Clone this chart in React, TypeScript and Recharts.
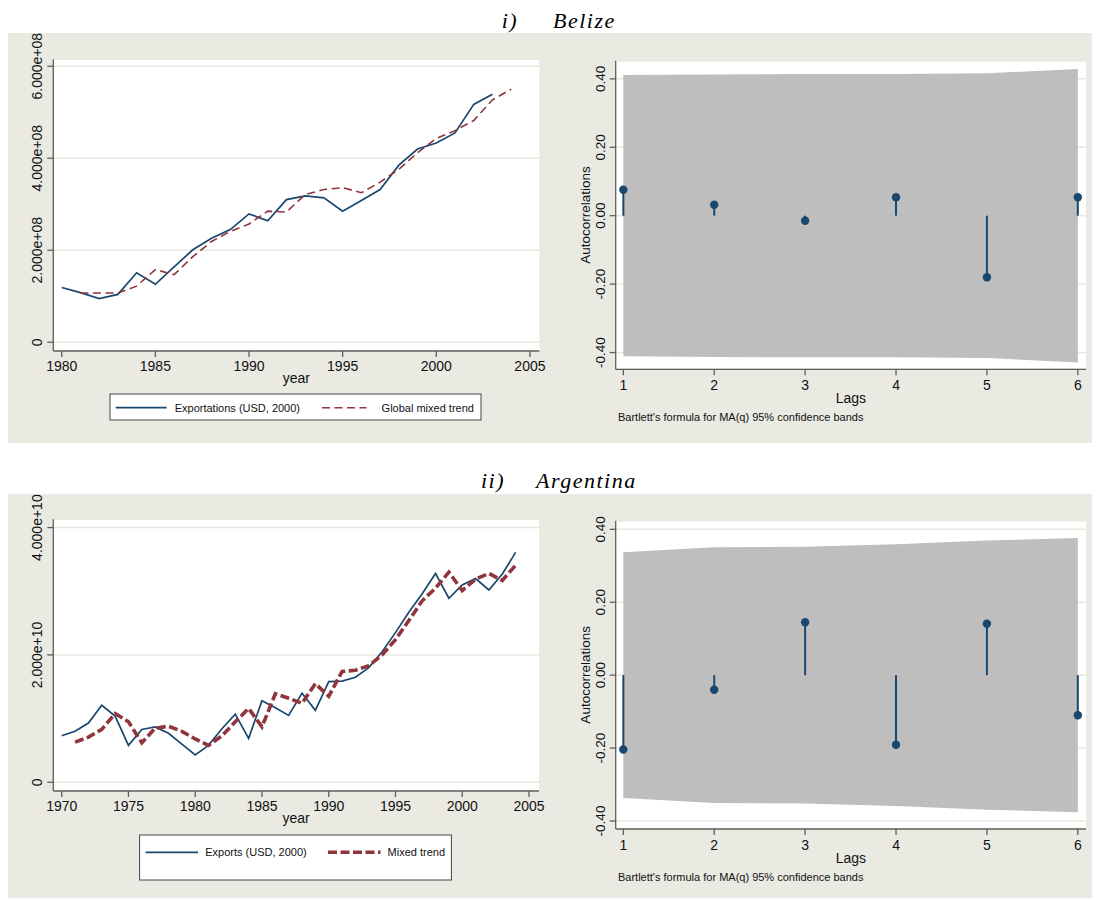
import React from 'react';
import {
  LineChart, Line, XAxis, YAxis, CartesianGrid, ComposedChart, Area, Scatter, ReferenceLine,
} from 'recharts';

// ---------------- data ----------------
const belizeYears = [1980, 1981, 1982, 1983, 1984, 1985, 1986, 1987, 1988, 1989, 1990, 1991, 1992,
  1993, 1994, 1995, 1996, 1997, 1998, 1999, 2000, 2001, 2002, 2003, 2004];
const belizeExports = [1.19e8, 1.08e8, 0.95e8, 1.04e8, 1.51e8, 1.26e8, 1.64e8, 2.01e8, 2.26e8, 2.45e8,
  2.79e8, 2.64e8, 3.10e8, 3.18e8, 3.14e8, 2.85e8, 3.08e8, 3.32e8, 3.85e8, 4.20e8, 4.33e8, 4.55e8,
  5.17e8, 5.39e8, null];
const belizeTrend = [null, 1.07e8, 1.07e8, 1.07e8, 1.22e8, 1.58e8, 1.47e8, 1.86e8, 2.19e8, 2.41e8,
  2.57e8, 2.85e8, 2.83e8, 3.21e8, 3.32e8, 3.36e8, 3.25e8, 3.48e8, 3.76e8, 4.12e8, 4.43e8, 4.60e8,
  4.82e8, 5.27e8, 5.50e8];
const belizeXTicks = [1980, 1985, 1990, 1995, 2000, 2005];
const belizeYTicks = [0, 2e8, 4e8, 6e8];

const argYears = [1970, 1971, 1972, 1973, 1974, 1975, 1976, 1977, 1978, 1979, 1980, 1981, 1982, 1983,
  1984, 1985, 1986, 1987, 1988, 1989, 1990, 1991, 1992, 1993, 1994, 1995, 1996, 1997, 1998, 1999,
  2000, 2001, 2002, 2003, 2004];
const argExports = [0.73e10, 0.80e10, 0.93e10, 1.21e10, 1.04e10, 0.58e10, 0.83e10, 0.87e10, 0.77e10,
  0.60e10, 0.43e10, 0.58e10, 0.84e10, 1.07e10, 0.69e10, 1.28e10, 1.17e10, 1.05e10, 1.40e10, 1.13e10,
  1.58e10, 1.59e10, 1.65e10, 1.80e10, 2.05e10, 2.35e10, 2.67e10, 2.96e10, 3.28e10, 2.89e10, 3.10e10,
  3.20e10, 3.02e10, 3.27e10, 3.61e10];
const argTrend = [null, 0.63e10, 0.71e10, 0.83e10, 1.08e10, 0.95e10, 0.62e10, 0.85e10, 0.88e10,
  0.80e10, 0.68e10, 0.58e10, 0.73e10, 0.95e10, 1.16e10, 0.87e10, 1.39e10, 1.32e10, 1.24e10, 1.55e10,
  1.35e10, 1.74e10, 1.76e10, 1.83e10, 2.00e10, 2.24e10, 2.54e10, 2.85e10, 3.05e10, 3.30e10, 3.01e10,
  3.19e10, 3.28e10, 3.17e10, 3.41e10];
const argXTicks = [1970, 1975, 1980, 1985, 1990, 1995, 2000, 2005];
const argYTicks = [0, 2e10, 4e10];

const lags = [1, 2, 3, 4, 5, 6];
const belizeAcf = [0.076, 0.032, -0.015, 0.054, -0.180, 0.054];
const belizeBand = [0.411, 0.413, 0.414, 0.414, 0.416, 0.429];
const argAcf = [-0.204, -0.040, 0.145, -0.191, 0.141, -0.110];
const argBand = [0.337, 0.351, 0.352, 0.359, 0.369, 0.376];
const acfTicks = [-0.4, -0.2, 0, 0.2, 0.4];

// ---------------- style ----------------
const FONT = '"Liberation Sans", Arial, Helvetica, sans-serif';
const SERIF = '"Liberation Serif", "Times New Roman", serif';
const NAVY = '#1A476F';
const MAROON = '#90353B';
const BEIGE = '#EAEAE2';
const GRID = '#E8E8DE';
const AXIS = '#5E5E5E';
const BAND = '#BEBEBE';

function sciFmt(v: number) {
  if (v === 0) return '0';
  return v.toExponential(3).replace(/e\+(\d)$/, 'e+0$1');
}
function acfFmt(v: number) {
  return v.toFixed(2);
}

const YRotTick = (props: any) => {
  const { x, y, payload, fmt, fontSize } = props;
  const bx = x - 3;
  return (
    <text x={bx} y={y} transform={`rotate(-90 ${bx} ${y})`} textAnchor="middle"
      fontSize={fontSize || 14} fill="#111" fontFamily={FONT}>
      {fmt(payload.value)}
    </text>
  );
};

type Box = { L: number; T: number; W: number; H: number };
type Plot = { x0: number; y0: number; x1: number; y1: number };

function marginsFor(box: Box, plot: Plot, yW: number, xH: number) {
  return {
    left: plot.x0 - box.L - yW,
    top: plot.y0 - box.T,
    right: box.L + box.W - plot.x1,
    bottom: box.T + box.H - plot.y1 - xH,
  };
}

function SeriesChart(props: {
  box: Box; plot: Plot; years: number[]; exp: (number | null)[]; trend: (number | null)[];
  xDomain: [number, number]; xTicks: number[]; yDomain: [number, number]; yTicks: number[];
  trendWidth: number; trendDash: string;
}) {
  const { box, plot, years, exp, trend } = props;
  const yW = 40, xH = 40;
  const rows = years.map((yr, i) => ({ year: yr, exp: exp[i], trend: trend[i] }));
  const margin = marginsFor(box, plot, yW, xH);
  const cx = (plot.x0 + plot.x1) / 2 - box.L;
  const labelY = plot.y1 - box.T + 32;
  return (
    <div style={{ position: 'absolute', left: box.L, top: box.T }}>
      <LineChart width={box.W} height={box.H} data={rows} margin={margin}>
        <CartesianGrid vertical={false} stroke={GRID} strokeWidth={1.5} fill="#FFFFFF" fillOpacity={1} />
        <XAxis dataKey="year" type="number" domain={props.xDomain} ticks={props.xTicks} allowDataOverflow
          interval={0} height={xH} tickSize={6} tickMargin={4} stroke={AXIS} strokeWidth={1.3}
          tick={{ fontSize: 14, fill: '#111', fontFamily: FONT }}
          label={() => (
            <text x={cx} y={labelY} textAnchor="middle" fontSize={14} fill="#111" fontFamily={FONT}>year</text>
          )} />
        <YAxis type="number" domain={props.yDomain} ticks={props.yTicks} allowDataOverflow interval={0}
          width={yW} tickSize={6} tickMargin={2} stroke={AXIS} strokeWidth={1.3}
          tick={<YRotTick fmt={sciFmt} fontSize={14} />} />
        <Line dataKey="exp" type="linear" stroke={NAVY} strokeWidth={1.7} dot={false} activeDot={false}
          isAnimationActive={false} />
        <Line dataKey="trend" type="linear" stroke={MAROON} strokeWidth={props.trendWidth}
          strokeDasharray={props.trendDash} dot={false} activeDot={false} isAnimationActive={false} />
      </LineChart>
    </div>
  );
}

function AcfChart(props: {
  box: Box; plot: Plot; acf: number[]; band: number[]; yDomain: [number, number];
}) {
  const { box, plot, acf, band } = props;
  const yW = 40, xH = 30;
  const rows = lags.map((lag, i) => ({ lag, acf: acf[i], band: [-band[i], band[i]] }));
  const margin = marginsFor(box, plot, yW, xH);
  const cx = (plot.x0 + plot.x1) / 2 - box.L;
  const lagsY = plot.y1 - box.T + 34;
  const axX = plot.x0 - box.L - 26;
  const axY = (plot.y0 + plot.y1) / 2 - box.T;
  return (
    <div style={{ position: 'absolute', left: box.L, top: box.T }}>
      <ComposedChart width={box.W} height={box.H} data={rows} margin={margin}>
        <CartesianGrid vertical={false} stroke={GRID} strokeWidth={1.5} fill="#FFFFFF" fillOpacity={1} />
        <XAxis dataKey="lag" type="number" domain={[0.916, 6.09]} ticks={lags} allowDataOverflow interval={0}
          height={xH} tickSize={6} tickMargin={5} stroke={AXIS} strokeWidth={1.3}
          tick={{ fontSize: 14, fill: '#111', fontFamily: FONT }}
          label={() => (
            <text x={cx} y={lagsY} textAnchor="middle" fontSize={14} fill="#111" fontFamily={FONT}>Lags</text>
          )} />
        <YAxis type="number" domain={props.yDomain} ticks={acfTicks} allowDataOverflow interval={0}
          width={yW} tickSize={6} tickMargin={2} stroke={AXIS} strokeWidth={1.3}
          tick={<YRotTick fmt={acfFmt} fontSize={13.5} />}
          label={() => (
            <text x={axX} y={axY} transform={`rotate(-90 ${axX} ${axY})`} textAnchor="middle"
              fontSize={13.5} fill="#111" fontFamily={FONT}>Autocorrelations</text>
          )} />
        <Area dataKey="band" type="linear" fill={BAND} fillOpacity={1} stroke="none" dot={false}
          activeDot={false} isAnimationActive={false} />
        {lags.map((lag, i) => (
          <ReferenceLine key={lag} segment={[{ x: lag, y: 0 }, { x: lag, y: acf[i] }]}
            stroke={NAVY} strokeWidth={2} />
        ))}
        <Scatter dataKey="acf" fill={NAVY} isAnimationActive={false}
          shape={(p: any) => <circle cx={p.cx} cy={p.cy} r={4.2} fill={NAVY} />} />
      </ComposedChart>
    </div>
  );
}

export default function App() {
  return (
    <div style={{ position: 'absolute', left: 0, top: 0, width: 1096, height: 900, background: '#FFFFFF',
      fontFamily: FONT, overflow: 'hidden' }}>
      <div style={{ position: 'absolute', left: 8, top: 33, width: 1084, height: 410, background: BEIGE }} />
      <div style={{ position: 'absolute', left: 8, top: 494, width: 1084, height: 404, background: BEIGE }} />

      <SeriesChart box={{ L: 8, T: 33, W: 540, H: 410 }} plot={{ x0: 53.3, y0: 59.3, x1: 539.3, y1: 351 }}
        years={belizeYears} exp={belizeExports} trend={belizeTrend}
        xDomain={[1979.55, 2005.5]} xTicks={belizeXTicks} yDomain={[-0.19e8, 6.15e8]} yTicks={belizeYTicks}
        trendWidth={1.6} trendDash="8 4.5" />
      <AcfChart box={{ L: 550, T: 33, W: 540, H: 410 }} plot={{ x0: 615.7, y0: 60.7, x1: 1086, y1: 369.3 }}
        acf={belizeAcf} band={belizeBand} yDomain={[-0.449, 0.453]} />

      <SeriesChart box={{ L: 8, T: 494, W: 540, H: 404 }} plot={{ x0: 53.3, y0: 519.3, x1: 539, y1: 791 }}
        years={argYears} exp={argExports} trend={argTrend}
        xDomain={[1969.37, 2005.75]} xTicks={argXTicks} yDomain={[-0.137e10, 4.13e10]} yTicks={argYTicks}
        trendWidth={3.6} trendDash="9 3.5" />
      <AcfChart box={{ L: 550, T: 494, W: 540, H: 404 }} plot={{ x0: 615.7, y0: 520.7, x1: 1086, y1: 829 }}
        acf={argAcf} band={argBand} yDomain={[-0.422, 0.4236]} />

      <svg width={1096} height={900} style={{ position: 'absolute', left: 0, top: 0, pointerEvents: 'none' }}>
        <g fontFamily={SERIF} fontStyle="italic" fontSize={22} fill="#000" letterSpacing={1.5}>
          <text x={501.7} y={28}>i)</text>
          <text x={553} y={28}>Belize</text>
          <text x={481} y={488.3}>ii)</text>
          <text x={536} y={488.3}>Argentina</text>
        </g>
        <g fontFamily={FONT} fontSize={11} fill="#111">
          <text x={618} y={420.5}>Bartlett's formula for MA(q) 95% confidence bands</text>
          <text x={618} y={880.5}>Bartlett's formula for MA(q) 95% confidence bands</text>
        </g>
        {/* legend top */}
        <rect x={110} y={394} width={371} height={26} fill="#FFFFFF" stroke="#444" strokeWidth={1} />
        <line x1={115.7} y1={407.7} x2={166.6} y2={407.7} stroke={NAVY} strokeWidth={1.7} />
        <text x={174.7} y={411.7} fontFamily={FONT} fontSize={11} fill="#111">Exportations (USD, 2000)</text>
        <line x1={322} y1={407.7} x2={366.5} y2={407.7} stroke={MAROON} strokeWidth={1.6} strokeDasharray="8 4.5" />
        <text x={381.6} y={411.7} fontFamily={FONT} fontSize={11} fill="#111">Global mixed trend</text>
        {/* legend bottom */}
        <rect x={139.6} y={835} width={311.8} height={45} fill="#FFFFFF" stroke="#444" strokeWidth={1} />
        <line x1={145.6} y1={852.3} x2={198} y2={852.3} stroke={NAVY} strokeWidth={1.7} />
        <text x={205.2} y={856.3} fontFamily={FONT} fontSize={11} fill="#111">Exports (USD, 2000)</text>
        <line x1={328} y1={852.3} x2={380.5} y2={852.3} stroke={MAROON} strokeWidth={3.6} strokeDasharray="9 3.5" />
        <text x={387.6} y={856.3} fontFamily={FONT} fontSize={11} fill="#111">Mixed trend</text>
      </svg>
    </div>
  );
}
